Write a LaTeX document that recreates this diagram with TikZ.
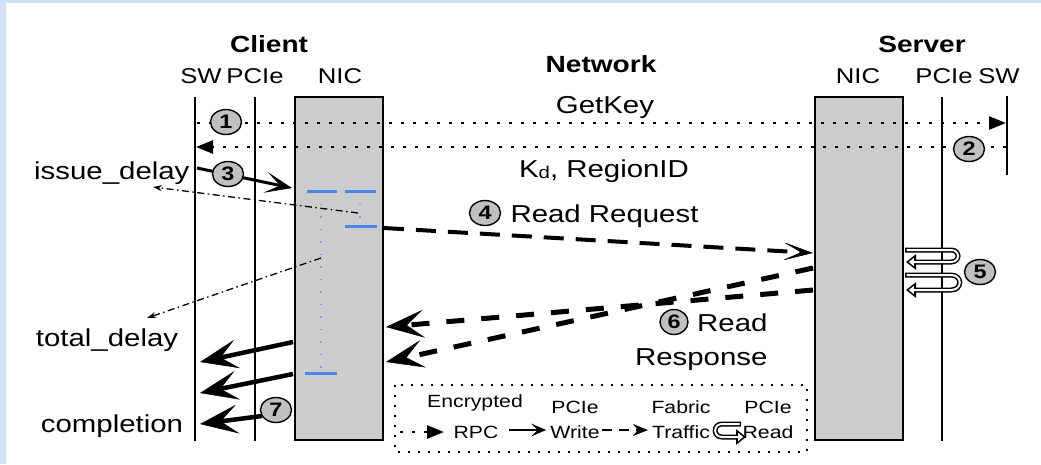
\documentclass[tikz,border=0pt]{standalone}
\usepackage{fontspec}
\setmainfont{Liberation Sans}[FakeStretch=1.2]
\usetikzlibrary{arrows.meta,shapes.geometric}
\definecolor{stripblue}{RGB}{207,226,243}
\definecolor{nicblue}{RGB}{74,134,232}
\definecolor{boxgray}{RGB}{204,204,204}
\definecolor{numgray}{RGB}{192,192,192}
\newcommand{\txtbody}{\fontsize{24.5}{28}\selectfont}
\newcommand{\txthead}{\fontsize{21.4}{25}\selectfont}
\newcommand{\txttitle}{\fontsize{23.4}{27}\selectfont\bfseries}
\newcommand{\txtsmall}{\fontsize{17.7}{20}\selectfont}
\newcommand{\txtnum}{\fontsize{19.5}{19.5}\selectfont\bfseries}
\newcommand{\hollowloop}[1]{\draw[loopouter] #1; \draw[loopinner] #1;}

\tikzset{
  lifeline/.style={line width=2pt},
  nicbox/.style={draw, line width=2.2pt, fill=boxgray, inner sep=0pt},
  num/.style={ellipse, draw, line width=1.4pt, fill=numgray, minimum width=31pt, minimum height=25pt, inner sep=0pt, font=\txtnum},
  rpc/.style={line width=2.6pt, dash pattern=on 2.6pt off 9.4pt, -{Triangle[length=17pt,width=13pt]}},
  pciew/.style={line width=3pt, -{Stealth[length=27pt,width=21pt,inset=15pt,line width=0.5pt]}},
  pcieback/.style={line width=4.5pt, -{Stealth[length=38pt,width=29pt,inset=17pt,line width=0.5pt]}},
  fabric/.style={line width=4pt, dash pattern=on 20pt off 12pt, -{Stealth[length=31pt,width=19pt,inset=19pt,line width=0.5pt]}},
  fabricback/.style={line width=5pt, dash pattern=on 18pt off 17pt, -{Stealth[length=38pt,width=28pt,inset=17pt,line width=0.5pt]}},
  delayline/.style={line width=1.3pt, dash pattern=on 7pt off 3.5pt on 1.5pt off 3.5pt, -{Stealth[length=9pt,width=6pt]}},
  tsbar/.style={nicblue, line width=3pt},
  tsdots/.style={nicblue!80, line width=1.8pt, dash pattern=on 1.8pt off 10.7pt},
  loopouter/.style={line width=5pt, -{Triangle[length=10pt,width=15pt]}},
  loopinner/.style={white, line width=2pt, shorten <=1.5pt, shorten >=2.8pt, -{Triangle[length=5pt,width=8pt]}},
  legendbox/.style={line width=2.2pt, dash pattern=on 2.2pt off 7.8pt},
  legsolid/.style={line width=2.2pt, -{Stealth[length=15pt,width=13pt,inset=7pt,line width=0.5pt]}},
  legdash/.style={line width=2.2pt, dash pattern=on 10pt off 7pt, -{Stealth[length=15pt,width=12pt]}},
}

\begin{document}
\begin{tikzpicture}[x=1pt,y=-1pt]
\useasboundingbox (0,0) rectangle (1041,464);
\fill[white] (0,0) rectangle (1041,464);
\fill[stripblue] (0,0) rectangle (6,464);
\fill[stripblue] (0,0) rectangle (1041,3);

% hosts and lifelines
\node[nicbox, minimum width=88pt, minimum height=343pt] (cnic) at (339,268.5) {};
\node[nicbox, minimum width=88pt, minimum height=343pt] (snic) at (859,268.5) {};
\coordinate (cswT) at (195,97);
\coordinate (cswB) at (195,441);
\coordinate (cpcT) at (255,97);
\coordinate (cpcB) at (255,441);
\coordinate (spcT) at (942,97);
\coordinate (spcB) at (942,441);
\coordinate (sswT) at (1007,96);
\coordinate (sswB) at (1007,175);
\draw[lifeline] (cswT) -- (cswB);
\draw[lifeline] (cpcT) -- (cpcB);
\draw[lifeline] (spcT) -- (spcB);
\draw[lifeline] (sswT) -- (sswB);

\node[anchor=base, font=\txttitle] (client) at (269,52) {Client};
\node[anchor=base, font=\txttitle] (network) at (601,72) {Network};
\node[anchor=base, font=\txttitle] (server) at (922,52) {Server};
\node[anchor=base, font=\txthead] (cswl) at (201,83) {SW};
\node[anchor=base, font=\txthead] (cpcl) at (255,83) {PCIe};
\node[anchor=base, font=\txthead] (cnicl) at (340,83) {NIC};
\node[anchor=base, font=\txthead] (snicl) at (858,83) {NIC};
\node[anchor=base, font=\txthead] (spcl) at (944,83) {PCIe};
\node[anchor=base, font=\txthead] (sswl) at (999,83) {SW};

% key exchange
\coordinate (getS) at (197,123);
\coordinate (getE) at (1006,123);
\draw[rpc] (getS) -- (getE);
\coordinate (keyS) at (1006,147);
\coordinate (keyE) at (196,147);
\draw[rpc] (keyS) -- (keyE);
\node[anchor=base, font=\txtbody] (getkey) at (605,113) {GetKey};
\node[anchor=base, font=\txtbody] (regionid) at (604,177) {K\raisebox{-1.5pt}{\fontsize{17}{17}\selectfont d}, RegionID};

% timestamps inside the client NIC
\coordinate (b1l) at (307,191);
\coordinate (b1r) at (337,191);
\coordinate (b2l) at (345,191);
\coordinate (b2r) at (376,191);
\coordinate (b3l) at (345,226);
\coordinate (b3r) at (377,226);
\coordinate (b4l) at (305,373);
\coordinate (b4r) at (337,373);
\coordinate (t1) at (321,191);
\coordinate (t4) at (321,373);
\coordinate (t2) at (360,191);
\coordinate (t3) at (360,226);
\draw[tsdots] (t1) -- (t4);
\draw[tsdots] (t2) -- (t3);
\draw[tsbar] (b1l) -- (b1r);
\draw[tsbar] (b2l) -- (b2r);
\draw[tsbar] (b3l) -- (b3r);
\draw[tsbar] (b4l) -- (b4r);

\coordinate (issT) at (358,213);
\coordinate (issE) at (153,187);
\draw[delayline] (issT) -- (issE);
\coordinate (totT) at (321,258);
\coordinate (totE) at (147,318);
\draw[delayline] (totT) -- (totE);
\node[anchor=base east, font=\txtbody] (issue) at (193,179) {issue\_delay};
\node[anchor=base, font=\txtbody] (total) at (107,346) {total\_delay};
\node[anchor=base, font=\txtbody] (compl) at (112,432) {completion};

% PCIe writes
\coordinate (wrS) at (197,168);
\coordinate (wrE) at (292,188);
\draw[pciew] (wrS) -- (wrE);
\coordinate (cA1) at (293,342);
\coordinate (cA2) at (200,362);
\draw[pcieback] (cA1) -- (cA2);
\coordinate (cB1) at (293,374);
\coordinate (cB2) at (200,393);
\draw[pcieback] (cB1) -- (cB2);
\coordinate (cC1) at (262,416);
\coordinate (cC2) at (200,424);
\draw[pcieback] (cC1) -- (cC2);

% fabric traffic
\coordinate (rqS) at (384,228);
\coordinate (rqE) at (813,253);
\draw[fabric] (rqS) -- (rqE);
\coordinate (rs1S) at (813,268);
\coordinate (rs1E) at (386,362);
\draw[fabricback] (rs1S) -- (rs1E);
\coordinate (rs2S) at (813,290);
\coordinate (rs2E) at (386,327);
\draw[fabricback] (rs2S) -- (rs2E);
\node[anchor=base west, font=\txtbody] (readreq) at (507,222) {Read Request};
\node[anchor=base east, font=\txtbody] (readresp) at (771,331) {Read};
\node[anchor=base east, font=\txtbody] (readresp2) at (771,365) {Response};

% PCIe reads on the server
\coordinate (lp1a) at (905,250);
\coordinate (lp1b) at (906,262);
\coordinate (lp2a) at (905,275);
\coordinate (lp2b) at (906,290);
\hollowloop{(lp1a) -- ++(46,0) to[out=0,in=0,looseness=2] ++(0,12) -- (lp1b)}
\hollowloop{(lp2a) -- ++(46,0) to[out=0,in=0,looseness=2] ++(0,15) -- (lp2b)}

% step numbers
\node[num] (n1) at (226,122) {1};
\node[num] (n2) at (969,149) {2};
\node[num] (n3) at (228,174) {3};
\node[num] (n4) at (485,213) {4};
\node[num] (n5) at (980,272) {5};
\node[num, minimum width=28pt] (n6) at (674,322) {6};
\node[num] (n7) at (276,410) {7};

% legend
\draw[legendbox] (395,385) rectangle (807,452);
\coordinate (lgA1) at (400,432);
\coordinate (lgA2) at (444,432);
\draw[rpc] (lgA1) -- (lgA2);
\coordinate (lgB1) at (509,430);
\coordinate (lgB2) at (546,430);
\draw[legsolid] (lgB1) -- (lgB2);
\coordinate (lgC1) at (602,430);
\coordinate (lgC2) at (648,430);
\draw[legdash] (lgC1) -- (lgC2);
\coordinate (lgD1) at (741,424);
\coordinate (lgD2) at (746,437);
\hollowloop{(lgD1) -- ++(-19,0) to[out=180,in=180,looseness=1.8] ++(0,13) -- (lgD2)}
\node[anchor=base, font=\txtsmall] (enc) at (475,407) {Encrypted};
\node[anchor=base, font=\txtsmall] (rpcl) at (476,438) {RPC};
\node[anchor=base, font=\txtsmall] (pcw1) at (575,413) {PCIe};
\node[anchor=base, font=\txtsmall] (pcw2) at (575,438) {Write};
\node[anchor=base, font=\txtsmall] (fab1) at (681,413) {Fabric};
\node[anchor=base, font=\txtsmall] (fab2) at (681,438) {Traffic};
\node[anchor=base, font=\txtsmall] (pcr1) at (768,413) {PCIe};
\node[anchor=base, font=\txtsmall] (pcr2) at (768,438) {Read};
\end{tikzpicture}
\end{document}
